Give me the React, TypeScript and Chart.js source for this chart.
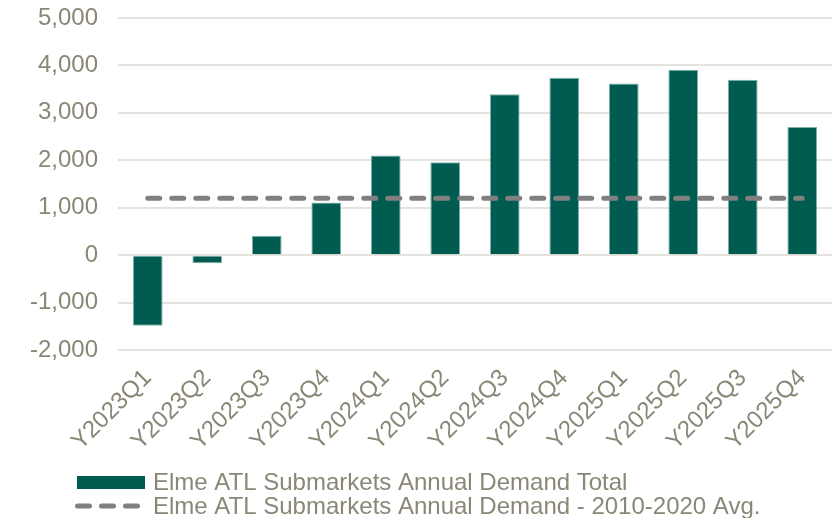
import React, { useEffect, useRef } from 'react';
import { Chart, registerables } from 'chart.js';

Chart.register(...registerables);

const categories = ['Y2023Q1', 'Y2023Q2', 'Y2023Q3', 'Y2023Q4', 'Y2024Q1', 'Y2024Q2', 'Y2024Q3', 'Y2024Q4', 'Y2025Q1', 'Y2025Q2', 'Y2025Q3', 'Y2025Q4'];
const demandTotal = [-1490, -170, 410, 1110, 2100, 1960, 3390, 3740, 3620, 3910, 3700, 2700];
const avgDemand = [1200, 1200, 1200, 1200, 1200, 1200, 1200, 1200, 1200, 1200, 1200, 1200];
const seriesNames = ['Elme ATL Submarkets Annual Demand Total', 'Elme ATL Submarkets Annual Demand - 2010-2020 Avg.'];
const yMin = -2000;
const yMax = 5000;
const yStep = 1000;

const BAR_COLOR = '#005C50';
const BAR_BORDER = '#7fb3ab';
const LINE_COLOR = '#808080';
const TEXT_COLOR = '#8a8776';
const GRID_COLOR = '#e4e3de';
const FONT = '"Liberation Sans", Arial, sans-serif';

const legendPlugin = {
  id: 'customLegend',
  afterDraw(chart: any) {
    const ctx = chart.ctx as CanvasRenderingContext2D;
    ctx.save();
    ctx.fillStyle = BAR_COLOR;
    ctx.fillRect(77, 476, 68, 13);
    ctx.strokeStyle = LINE_COLOR;
    ctx.lineWidth = 5;
    ctx.lineCap = 'round';
    ctx.setLineDash([12, 12]);
    ctx.beginPath();
    ctx.moveTo(77.5, 506);
    ctx.lineTo(137.5, 506);
    ctx.stroke();
    ctx.setLineDash([]);
    ctx.fillStyle = TEXT_COLOR;
    ctx.font = '24px ' + FONT;
    ctx.textBaseline = 'middle';
    ctx.textAlign = 'left';
    ctx.fillText(seriesNames[0], 153, 483);
    ctx.fillText(seriesNames[1], 153, 507);
    ctx.restore();
  },
};

export default function App() {
  const ref = useRef<HTMLCanvasElement | null>(null);

  useEffect(() => {
    document.body.style.margin = '0';
    if (!ref.current) return;
    const chart = new Chart(ref.current, {
      type: 'bar',
      data: {
        labels: categories,
        datasets: [
          {
            type: 'line',
            label: seriesNames[1],
            data: avgDemand,
            borderColor: LINE_COLOR,
            borderWidth: 5,
            borderDash: [12, 12],
            borderCapStyle: 'round',
            pointRadius: 0,
            fill: false,
            order: 0,
          } as any,
          {
            type: 'bar',
            label: seriesNames[0],
            data: demandTotal,
            backgroundColor: BAR_COLOR,
            borderColor: BAR_BORDER,
            borderWidth: 1,
            barPercentage: 0.5,
            categoryPercentage: 1,
            order: 1,
          },
        ],
      },
      options: {
        responsive: false,
        animation: false,
        layout: { padding: { top: 18, right: 1, left: 0, bottom: 0 } },
        plugins: {
          legend: { display: false },
          tooltip: { enabled: false },
        },
        scales: {
          x: {
            grid: { display: false },
            border: { display: false },
            ticks: {
              color: TEXT_COLOR,
              font: { family: FONT, size: 24 },
              minRotation: 45,
              maxRotation: 45,
              padding: 6,
            },
            afterFit(scale: any) {
              scale.height = 168;
              scale.paddingTop = 0;
              scale.paddingBottom = 0;
            },
          },
          y: {
            min: yMin,
            max: yMax,
            ticks: {
              stepSize: yStep,
              color: TEXT_COLOR,
              font: { family: FONT, size: 24 },
              padding: 20,
              callback: (v: any) => Number(v).toLocaleString('en-US'),
            },
            grid: { color: GRID_COLOR, lineWidth: 2, drawTicks: false },
            border: { display: false },
            afterFit(scale: any) {
              scale.width = 118;
              scale.paddingTop = 0;
              scale.paddingBottom = 0;
            },
          },
        },
      },
      plugins: [legendPlugin],
    });
    return () => chart.destroy();
  }, []);

  return (
    <div style={{ position: 'absolute', left: 0, top: 0, width: 833, height: 518 }}>
      <canvas ref={ref} width={833} height={518} />
    </div>
  );
}
